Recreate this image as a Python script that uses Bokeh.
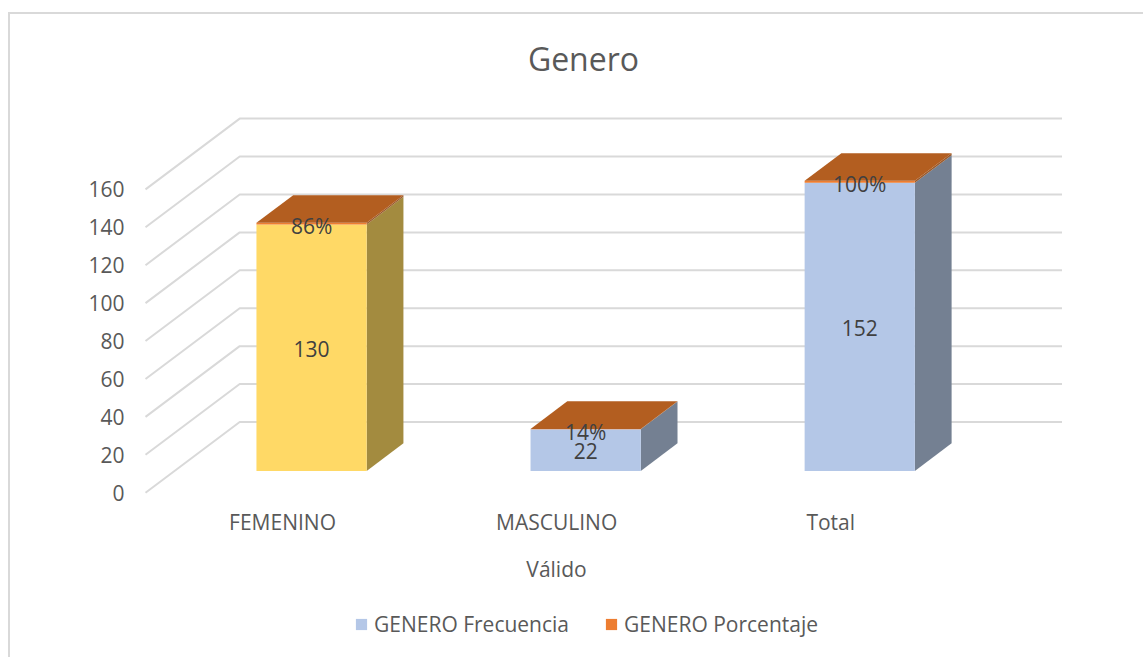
from bokeh.plotting import figure
from bokeh.models import FixedTicker, Legend, LegendItem
from bokeh.core.properties import value
from bokeh.embed import file_html
from bokeh.resources import INLINE

chart_title = "Genero"
categories = ["FEMENINO", "MASCULINO", "Total"]
frecuencia = [130, 22, 152]
porcentaje = [0.86, 0.14, 1.00]
porcentaje_labels = ["86%", "14%", "100%"]
front_colors = ["#FFD966", "#B4C7E7", "#B4C7E7"]
side_colors = ["#A38B3F", "#748092", "#748092"]
y_ticks = [0, 20, 40, 60, 80, 100, 120, 140, 160]

ORANGE = "#ED7D31"
TOP_ORANGE = "#B35E20"
SIDE_ORANGE = "#9A5A2C"
GRID = "#D9D9D9"
TEXT = "#595959"
LABEL = "#404040"
FONT = "Open Sans"

PX_X = 273.5   # px per category
PX_Y = 1.89    # px per value unit
DEPTH_X = 94 / PX_X
DEPTH_Y = 70.5 / PX_Y
BAR_W = 110 / PX_X
D0, D1 = 0.308, 0.698   # bar's front/back position in the floor depth

p = figure(width=1133, height=643, output_backend="svg", toolbar_location=None,
           margin=(12, 0, 0, 8),
           x_range=(-0.5 - 5 / PX_X, -0.5 + 921 / PX_X),
           y_range=(-166.3 / PX_Y, 476.7 / PX_Y),
           min_border_left=130, min_border_right=77, min_border_top=0, min_border_bottom=0,
           background_fill_color="white", border_fill_color="white", outline_line_color=None,
           styles={"border-top": "2px solid #D9D9D9", "border-left": "2px solid #D9D9D9",
                   "box-sizing": "content-box"})
p.grid.visible = False

# axes
p.yaxis.ticker = FixedTicker(ticks=y_ticks)
p.yaxis.axis_line_color = None
p.yaxis.major_tick_line_color = None
p.yaxis.minor_tick_line_color = None
p.yaxis.major_tick_out = 0
p.yaxis.major_label_standoff = 16
p.yaxis.major_label_text_font = FONT
p.yaxis.major_label_text_font_size = "21px"
p.yaxis.major_label_text_color = TEXT

p.xaxis.fixed_location = -5.3 / PX_Y
p.xaxis.bounds = (-0.5, len(categories) - 0.5)
p.xaxis.ticker = FixedTicker(ticks=list(range(len(categories))))
p.xaxis.major_label_overrides = {i: c for i, c in enumerate(categories)}
p.xaxis.axis_line_color = None
p.xaxis.major_tick_line_color = None
p.xaxis.minor_tick_line_color = None
p.xaxis.major_tick_out = 0
p.xaxis.major_label_standoff = 10
p.xaxis.major_label_text_font = FONT
p.xaxis.major_label_text_font_size = "21px"
p.xaxis.major_label_text_color = TEXT
p.xaxis.axis_label = "Válido"
p.xaxis.axis_label_standoff = 16
p.xaxis.axis_label_text_font = FONT
p.xaxis.axis_label_text_font_size = "21px"
p.xaxis.axis_label_text_font_style = "normal"
p.xaxis.axis_label_text_color = TEXT

# gridlines: floor-to-back diagonal, then back wall
left, right = -0.5, len(categories) - 0.5
gx = [[left, left + DEPTH_X, right + DEPTH_X] for _ in y_ticks]
gy = [[t, t + DEPTH_Y, t + DEPTH_Y] for t in y_ticks]
p.multi_line(gx, gy, line_color=GRID, line_width=2)


def project(i, v, depth, side):
    return i + side * BAR_W / 2 + depth * DEPTH_X, v + depth * DEPTH_Y


def front(i, v0, v1):
    xa, ya = project(i, v0, D0, -1)
    xb, yb = project(i, v1, D0, 1)
    return [xa, xb, xb, xa], [ya, ya, yb, yb]


def side(i, v0, v1):
    a = project(i, v0, D0, 1)
    b = project(i, v0, D1, 1)
    c = project(i, v1, D1, 1)
    d = project(i, v1, D0, 1)
    return [a[0], b[0], c[0], d[0]], [a[1], b[1], c[1], d[1]]


def top(i, v):
    a = project(i, v, D0, -1)
    b = project(i, v, D0, 1)
    c = project(i, v, D1, 1)
    d = project(i, v, D1, -1)
    return [a[0], b[0], c[0], d[0]], [a[1], b[1], c[1], d[1]]


idx = range(len(categories))
fr = [front(i, 0, frecuencia[i]) for i in idx]
sd = [side(i, 0, frecuencia[i]) for i in idx]
ofr = [front(i, frecuencia[i], frecuencia[i] + porcentaje[i]) for i in idx]
osd = [side(i, frecuencia[i], frecuencia[i] + porcentaje[i]) for i in idx]
tp = [top(i, frecuencia[i] + porcentaje[i]) for i in idx]

r_side = p.patches([s[0] for s in sd], [s[1] for s in sd], fill_color=side_colors, line_color=None)
r_front = p.patches([f[0] for f in fr], [f[1] for f in fr], fill_color=front_colors, line_color=None)
p.patches([s[0] for s in osd], [s[1] for s in osd], fill_color=SIDE_ORANGE, line_color=None)
r_orange = p.patches([f[0] for f in ofr], [f[1] for f in ofr], fill_color=ORANGE, line_color=None)
p.patches([t[0] for t in tp], [t[1] for t in tp], fill_color=TOP_ORANGE, line_color=None)

# chart title, drawn inside the frame above the back wall
p.text([-0.5 + 437 / PX_X], [432.7 / PX_Y], text=[chart_title],
       text_font=value(FONT), text_font_size="32px", text_color=TEXT,
       text_align="center", text_baseline="middle")

# data labels
lx = [i + D0 * DEPTH_X for i in idx]
p.text(lx, [frecuencia[i] / 2 + D0 * DEPTH_Y for i in idx], text=[str(v) for v in frecuencia],
       text_font=value(FONT), text_font_size="21px", text_color=LABEL,
       text_align="center", text_baseline="middle", y_offset=1)
p.text(lx, [frecuencia[i] + porcentaje[i] + D0 * DEPTH_Y for i in idx], text=porcentaje_labels,
       text_font=value(FONT), text_font_size="21px", text_color=LABEL,
       text_align="center", text_baseline="middle", y_offset=3)

legend = Legend(items=[LegendItem(label="GENERO Frecuencia", renderers=[r_front], index=1),
                       LegendItem(label="GENERO Porcentaje", renderers=[r_orange], index=0)],
                orientation="horizontal", location=(214, 21), padding=0, margin=0, spacing=35,
                glyph_width=14, glyph_height=14, label_standoff=6,
                label_text_font=FONT, label_text_font_size="21px", label_text_color=TEXT,
                background_fill_alpha=0, border_line_color=None)
p.add_layout(legend, "center")

open("out.html", "w").write(file_html(p, INLINE))
